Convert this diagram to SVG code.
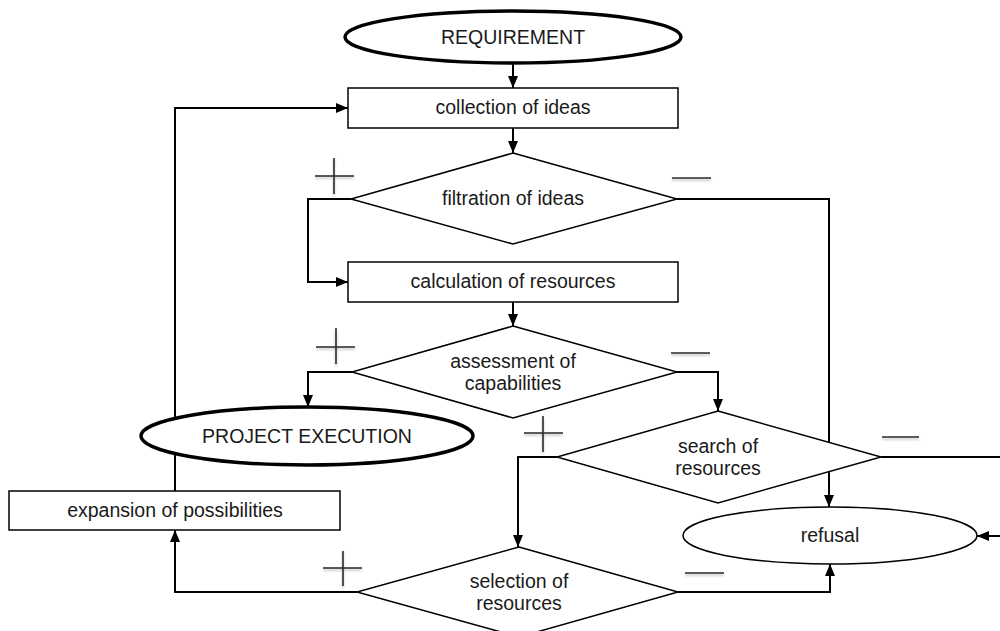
<svg xmlns="http://www.w3.org/2000/svg" width="1000" height="631" viewBox="0 0 1000 631">
<style>
.conn{fill:none;stroke:#000;stroke-width:2}
.box{fill:#fff;stroke:#000;stroke-width:1.5}
.term{fill:#fff;stroke:#000;stroke-width:3.5}
.thin{fill:#fff;stroke:#000;stroke-width:1.5}
.lbl{font-family:"Liberation Sans",Arial,sans-serif;font-size:19.5px;fill:#1a1a1a;text-anchor:middle}
.sign{stroke:#2a2a2a;stroke-width:1.6;fill:none;filter:url(#sh)}
</style>
<defs>
<marker id="arr" markerUnits="userSpaceOnUse" markerWidth="13" markerHeight="11" refX="12" refY="5" orient="auto">
<path d="M0,0 L12,5 L0,10 z" fill="#000"/>
</marker>
<filter id="sh" filterUnits="userSpaceOnUse" x="0" y="0" width="1000" height="631">
<feDropShadow dx="0" dy="2" stdDeviation="1.2" flood-color="#000" flood-opacity="0.25"/>
</filter>
</defs>
<rect width="1000" height="631" fill="#fff"/>
<g id="connectors">
<path class="conn" d="M513,63 V88" marker-end="url(#arr)"/>
<path class="conn" d="M513,128 V153" marker-end="url(#arr)"/>
<path class="conn" d="M351,199 H308 V282 H348" marker-end="url(#arr)"/>
<path class="conn" d="M677,199 H829 V507" marker-end="url(#arr)"/>
<path class="conn" d="M513,302 V326" marker-end="url(#arr)"/>
<path class="conn" d="M352,372 H308 V407" marker-end="url(#arr)"/>
<path class="conn" d="M675,372 H718 V411" marker-end="url(#arr)"/>
<path class="conn" d="M881,457 H1003 V536 H977" marker-end="url(#arr)"/>
<path class="conn" d="M557,457 H518 V547" marker-end="url(#arr)"/>
<path class="conn" d="M678,592 H830 V564" marker-end="url(#arr)"/>
<path class="conn" d="M357,592 H175 V530" marker-end="url(#arr)"/>
<path class="conn" d="M175,491 V108 H348" marker-end="url(#arr)"/>
</g>
<g id="requirement">
<ellipse class="term" cx="513" cy="37" rx="168" ry="26"/>
<text class="lbl" x="513" y="44">REQUIREMENT</text>
</g>
<g id="collection">
<rect class="box" x="348" y="88" width="330" height="40"/>
<text class="lbl" x="513" y="114">collection of ideas</text>
</g>
<g id="filtration">
<polygon class="box" points="513,153 677,199 513,244 351,199"/>
<text class="lbl" x="513" y="205">filtration of ideas</text>
</g>
<g id="calculation">
<rect class="box" x="348" y="262" width="330" height="40"/>
<text class="lbl" x="513" y="288">calculation of resources</text>
</g>
<g id="assessment">
<polygon class="box" points="513,326 677,372 513,418 352,372"/>
<text class="lbl" x="513" y="368">assessment of</text>
<text class="lbl" x="513" y="390">capabilities</text>
</g>
<g id="project-execution">
<ellipse class="term" cx="307" cy="436" rx="166" ry="29"/>
<text class="lbl" x="307" y="443">PROJECT EXECUTION</text>
</g>
<g id="search">
<polygon class="box" points="718,411 881,457 718,503 557,457"/>
<text class="lbl" x="718" y="453">search of</text>
<text class="lbl" x="718" y="475">resources</text>
</g>
<g id="refusal">
<ellipse class="thin" cx="830" cy="535.5" rx="147" ry="28.5"/>
<text class="lbl" x="830" y="542">refusal</text>
</g>
<g id="expansion">
<rect class="box" x="9" y="491" width="331" height="39"/>
<text class="lbl" x="175" y="517">expansion of possibilities</text>
</g>
<g id="selection">
<polygon class="box" points="519,547 678,592 519,637 357,592"/>
<text class="lbl" x="519" y="588">selection of</text>
<text class="lbl" x="519" y="610">resources</text>
</g>
<g id="signs">
<path class="sign" d="M315,176 H354 M334,158 V194"/>
<path class="sign" d="M316,347 H355 M336,328 V364"/>
<path class="sign" d="M524,433 H563 M543,416 V452"/>
<path class="sign" d="M323,568 H362 M343,551 V586"/>
<path class="sign" d="M672,178 H711"/>
<path class="sign" d="M671,353 H710"/>
<path class="sign" d="M882,437 H919"/>
<path class="sign" d="M685,573 H724"/>
</g>
</svg>
